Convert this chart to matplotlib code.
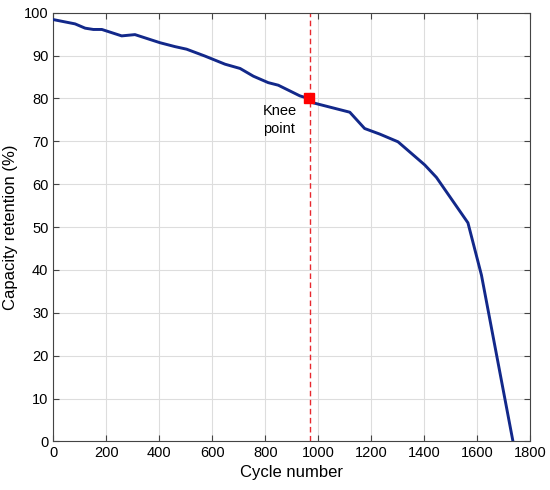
import matplotlib
matplotlib.use("Agg")
import matplotlib.pyplot as plt

# capacity fade curve
cycles = [0, 82, 120, 151, 183, 258, 308, 403, 459, 503, 572, 648, 705, 755,
          811, 849, 931, 964, 980, 1119, 1175, 1232, 1301, 1402, 1446, 1565,
          1616, 1735]
retention = [98.4, 97.4, 96.4, 96.1, 96.1, 94.6, 94.9, 93.0, 92.1, 91.5, 89.9,
             88.0, 87.0, 85.2, 83.7, 83.1, 80.6, 80.0, 79.0, 76.8, 73.0, 71.7,
             69.9, 64.5, 61.6, 51.0, 38.8, 0.0]

knee_cycle = 964
knee_value = 80.0
knee_line = 970

plt.rcParams['font.family'] = ['Liberation Sans', 'DejaVu Sans']

fig = plt.figure(figsize=(5.5, 4.9), dpi=100)
ax = fig.add_axes([0.097, 0.099, 0.867, 0.875])

ax.plot(cycles, retention, color='#12288a', linewidth=2.1, zorder=3)
ax.axvline(knee_line, color='#e8282e', linestyle=(0, (4, 2.5)), linewidth=1, zorder=2)
ax.plot([knee_cycle], [knee_value], marker='s', color='#ff0000', markersize=7,
        linestyle='none', zorder=4)
ax.text(790, 75, 'Knee\npoint', fontsize=10.5, va='center', ha='left',
        multialignment='left', linespacing=1.35)

ax.set_xlim(0, 1800)
ax.set_ylim(0, 100)
ax.set_xticks(range(0, 1801, 200))
ax.set_yticks(range(0, 101, 10))
ax.tick_params(direction='in', top=True, right=True, labelsize=10.5,
               length=4, color='#444444')
ax.grid(True, color='#dddddd', linewidth=0.8)
ax.set_axisbelow(True)
for s in ax.spines.values():
    s.set_color('#444444')
    s.set_linewidth(0.8)

ax.set_xlabel('Cycle number', fontsize=12, labelpad=3)
ax.set_ylabel('Capacity retention (%)', fontsize=12, labelpad=4)

fig.savefig('out.png', dpi=100)
